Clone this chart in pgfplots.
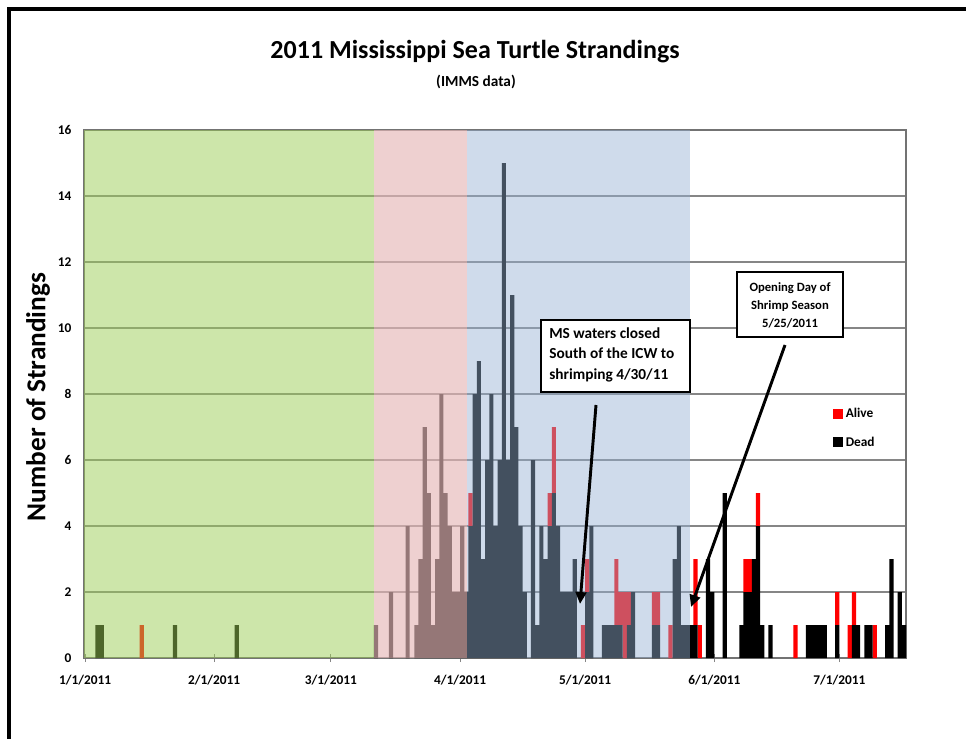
\documentclass[border=0pt]{standalone}
\usepackage{fontspec}
\setmainfont{Carlito}
\usepackage{pgfplots}
\pgfplotsset{compat=1.18}
\usepackage{pgfplotstable}
\usetikzlibrary{arrows.meta}

\definecolor{ovgreen}{RGB}{155,205,85}
\definecolor{ovpink}{RGB}{229,183,183}
\definecolor{ovblue}{RGB}{149,176,211}
\definecolor{gridgray}{RGB}{134,134,134}
\definecolor{alivered}{RGB}{255,0,0}

\pgfplotsset{sqlegend/.style={legend image code/.code={\path[##1] (0pt,-3.75pt) rectangle (7.5pt,3.75pt);}}}

% x = day of 2011 counted from 1 Jan (= 0), bar centre
\pgfplotstableread{
x dead alive
3.0 1 0
4.0 1 0
13.6 0 1
21.6 1 0
36.4 1 0
69.8 1 0
73.4 2 0
77.4 4 0
79.5 1 0
80.5 3 0
81.5 7 0
82.5 5 0
83.5 1 0
84.5 3 0
85.5 8 0
86.5 5 0
87.5 4 0
88.5 2 0
89.5 2 0
90.5 4 0
91.5 2 0
92.5 4 1
93.5 8 0
94.5 9 0
95.5 3 0
96.5 6 0
97.5 8 0
98.5 4 0
99.5 6 0
100.5 15 0
101.5 6 0
102.5 11 0
103.5 7 0
104.5 4 0
105.5 2 0
107.5 6 0
108.5 1 0
109.5 4 0
110.5 3 0
111.5 4 1
112.5 5 2
113.5 4 0
114.5 2 0
115.5 2 0
116.5 2 0
117.5 3 0
119.5 0 1
120.5 2 1
121.5 4 0
124.5 1 0
125.5 1 0
126.5 1 0
127.5 1 2
128.5 1 1
129.5 0 2
130.5 1 1
131.5 2 0
136.5 1 1
137.5 1 1
140.5 0 1
141.5 3 0
142.5 4 0
143.5 1 0
144.5 1 0
145.5 1 0
146.5 1 2
147.5 0 1
149.5 3 0
150.5 2 0
153.5 5 0
157.5 1 0
158.5 2 1
159.5 2 1
160.5 3 0
161.5 4 1
162.5 1 0
164.5 1 0
170.5 0 1
173.5 1 0
174.5 1 0
175.5 1 0
176.5 1 0
177.5 1 0
180.5 1 1
183.5 0 1
184.5 1 1
185.5 1 0
187.5 1 0
188.5 1 0
189.5 0 1
192.5 1 0
193.5 3 0
195.5 2 0
196.5 1 0
}\strandings

\begin{document}
\begin{tikzpicture}
\useasboundingbox (0pt,0pt) rectangle (724.5pt,-553.5pt);
\begin{axis}[
  at={(63pt,-493.5pt)}, anchor=south west,
  scale only axis, width=616.5pt, height=396pt,
  xmin=-0.25, xmax=197, ymin=0, ymax=16,
  ybar stacked, bar width=1,
  axis lines=box,
  axis line style={black!55, line width=1pt},
  ytick={0,2,...,16},
  ymajorgrids,
  grid style={gridgray, line width=1.1pt},
  ytick style={draw=none},
  xtick={0,31,59,90,120,151,181},
  xticklabels={1/1/2011,2/1/2011,3/1/2011,4/1/2011,5/1/2011,6/1/2011,7/1/2011},
  xtick style={draw=gridgray, line width=0.8pt},
  tick align=center, major tick length=6pt,
  xtick pos=bottom, ytick pos=left,
  /pgf/number format/assume math mode=true,
  tick label style={font=\bfseries\fontsize{10}{12}\selectfont},
  xticklabel style={yshift=-6pt},
  yticklabel style={xshift=-3pt},
  legend style={at={(0.911,0.479)}, anchor=north west, draw=none, fill=none,
    font=\bfseries\fontsize{10}{12}\selectfont, row sep=9pt, inner sep=0pt,
    /tikz/every even column/.append style={column sep=1pt}},
  legend cell align=left,
  reverse legend,
]
\addplot[fill=black, draw=none, sqlegend] table[x=x, y=dead] {\strandings};
\addlegendentry{Dead}
\addplot[fill=alivered, draw=none, sqlegend] table[x=x, y=alive] {\strandings};
\addlegendentry{Alive}
\end{axis}
\begin{scope}[x=0.75pt,y=-0.75pt]
  % translucent period shading laid over the bars and grid
  \fill[ovgreen, opacity=0.5] (84,130) rectangle (373.7,658);
  \fill[ovpink, opacity=0.65] (373.7,130) rectangle (466.7,658);
  \fill[ovblue, opacity=0.455] (466.7,130) rectangle (690,658);
  \draw[line width=2.6pt] (9,745) -- (9,9) -- (975,9);
  \node[font=\bfseries\fontsize{19.5}{23}\selectfont] at (475,52) {2011 Mississippi Sea Turtle Strandings};
  \node[font=\bfseries\fontsize{11.5}{14}\selectfont] at (476,82) {(IMMS data)};
  \node[rotate=90, font=\bfseries\fontsize{20.5}{24}\selectfont] at (38,397) {Number of Strandings};
  \draw[-{Triangle[length=9pt,width=8pt]}, line width=2.2pt] (596,405) -- (580,604);
  \draw[-{Triangle[length=9pt,width=8pt]}, line width=2.2pt] (785,345) -- (691,607);
  \draw[line width=1.3pt, fill=white] (541,320) rectangle (690,392);
  \node[anchor=north west, align=left, inner sep=0pt, font=\bfseries\fontsize{11.5}{15.7}\selectfont] at (549,327) {MS waters closed\\South of the ICW to\\shrimping 4/30/11};
  \draw[line width=1.3pt, fill=white] (737,272) rectangle (843,337);
  \node[align=center, inner sep=0pt, font=\bfseries\fontsize{9.5}{13.5}\selectfont] at (790,305) {Opening Day of\\Shrimp Season\\5/25/2011};
\end{scope}
\end{tikzpicture}
\end{document}
